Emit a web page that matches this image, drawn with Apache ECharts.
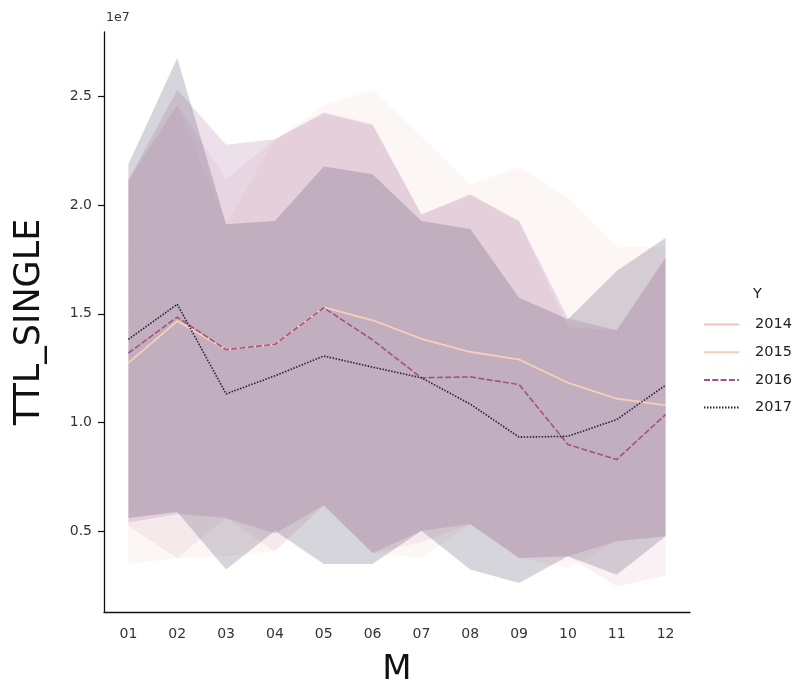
<!DOCTYPE html>
<html>
<head>
<meta charset="utf-8">
<script src="https://cdn.jsdelivr.net/npm/echarts@6/dist/echarts.min.js"></script>
<style>html,body{margin:0;padding:0;background:#fff}#c{width:800px;height:686px}</style>
</head>
<body>
<div id="c"></div>
<script>
const months = ['01','02','03','04','05','06','07','08','09','10','11','12'];
const years = ['2014','2015','2016','2017'];
const yTicks = [5e6, 1e7, 1.5e7, 2e7, 2.5e7];

// mean lines
const mean2014 = [1.275e7,1.467e7,1.335e7,1.36e7,1.53e7,1.47e7,1.385e7,1.325e7,1.29e7,1.183e7,1.11e7,1.08e7];
const mean2015 = [1.275e7,1.467e7,1.335e7,1.36e7,1.53e7,1.47e7,1.385e7,1.325e7,1.29e7,1.183e7,1.11e7,1.08e7];
const mean2016 = [1.32e7,1.485e7,1.335e7,1.36e7,1.528e7,1.38e7,1.206e7,1.21e7,1.175e7,8.99e6,8.3e6,1.037e7];
const mean2017 = [1.383e7,1.544e7,1.132e7,1.215e7,1.306e7,1.255e7,1.206e7,1.085e7,9.33e6,9.37e6,1.014e7,1.172e7];

// confidence band upper / lower
const hi2014 = [2.115e7,2.46e7,1.912e7,2.30e7,2.457e7,2.529e7,2.315e7,2.096e7,2.173e7,2.035e7,1.805e7,1.81e7];
const lo2014 = [3.5e6,3.77e6,3.85e6,4.08e6,6.2e6,4.0e6,3.77e6,5.34e6,3.77e6,3.31e6,4.54e6,4.77e6];
const hi2015 = [2.115e7,2.46e7,2.12e7,2.30e7,2.42e7,2.365e7,1.955e7,2.045e7,1.922e7,1.44e7,1.425e7,1.758e7];
const lo2015 = [5.23e6,3.77e6,5.61e6,4.08e6,6.2e6,4.0e6,4.5e6,5.34e6,3.77e6,3.85e6,2.47e6,2.97e6];
const hi2016 = [2.115e7,2.53e7,2.277e7,2.303e7,2.426e7,2.372e7,1.958e7,2.05e7,1.927e7,1.48e7,1.425e7,1.758e7];
const lo2016 = [5.4e6,5.8e6,5.61e6,4.9e6,6.2e6,4.0e6,5.03e6,5.34e6,3.77e6,3.85e6,4.54e6,4.77e6];
const hi2017 = [2.188e7,2.676e7,1.912e7,1.927e7,2.177e7,2.142e7,1.927e7,1.89e7,1.574e7,1.475e7,1.697e7,1.85e7];
const lo2017 = [5.61e6,5.89e6,3.24e6,5.03e6,3.5e6,3.5e6,5.03e6,3.24e6,2.62e6,3.85e6,3.0e6,4.77e6];

const lineColors = ['#efc2b6','#f3cfba','#a5527f','#2d1e3e'];
const bandColors = ['#eed4cd','#e1b9c8','#a06996','#372d50'];
const lineDash = ['solid','solid',[6,2.3],[1.5,1.5]];

const means = [mean2014, mean2015, mean2016, mean2017];
const his = [hi2014, hi2015, hi2016, hi2017];
const los = [lo2014, lo2015, lo2016, lo2017];

const series = [];
years.forEach((y, i) => {
  series.push({
    name: 'lo' + y, type: 'line', stack: 'band' + y, data: los[i],
    symbol: 'none', lineStyle: {opacity: 0}, silent: true, z: 1
  });
  series.push({
    name: 'band' + y, type: 'line', stack: 'band' + y,
    data: his[i].map((v, k) => v - los[i][k]),
    symbol: 'none', lineStyle: {opacity: 0}, silent: true, z: 1,
    areaStyle: {color: bandColors[i], opacity: 0.2}
  });
});
years.forEach((y, i) => {
  series.push({
    name: y, type: 'line', data: means[i], symbol: 'none', z: 3,
    lineStyle: {color: lineColors[i], width: 1.6, type: lineDash[i]},
    itemStyle: {color: lineColors[i]}
  });
});

const chart = echarts.init(document.getElementById('c'), null, {renderer: 'canvas'});
chart.setOption({
  animation: false,
  backgroundColor: '#fff',
  textStyle: {fontFamily: 'DejaVu Sans'},
  grid: {left: 104, right: 110, top: 32, bottom: 74, containLabel: false, outerBoundsMode: 'none'},
  xAxis: {
    type: 'category', data: months, boundaryGap: true,
    name: 'M', nameLocation: 'middle', nameGap: 41,
    nameTextStyle: {fontSize: 34, color: '#111', fontFamily: 'DejaVu Sans'},
    axisLine: {lineStyle: {color: '#111', width: 1.3}},
    axisTick: {alignWithLabel: true, length: 6, lineStyle: {color: '#111', width: 1.2}},
    axisLabel: {fontSize: 14, color: '#333', margin: 15, fontFamily: 'DejaVu Sans'},
    splitLine: {show: false}
  },
  yAxis: {
    type: 'value', min: 1.29e6, max: 2.796e7,
    name: 'TTL_SINGLE', nameLocation: 'middle', nameGap: 57,
    nameTextStyle: {fontSize: 35, color: '#111', fontFamily: 'DejaVu Sans'},
    axisLine: {show: true, lineStyle: {color: '#111', width: 1.3}},
    axisTick: {show: true, length: 6, customValues: yTicks, lineStyle: {color: '#111', width: 1.2}},
    axisLabel: {fontSize: 14, color: '#333', margin: 12, customValues: yTicks,
      formatter: v => (v / 1e7).toFixed(1), fontFamily: 'DejaVu Sans'},
    splitLine: {show: false}
  },
  legend: {
    data: years, orient: 'vertical', left: 703, top: 317, padding: 0,
    itemWidth: 35, itemHeight: 14, itemGap: 12.7,
    itemStyle: {opacity: 0},
    textStyle: {fontSize: 14.5, color: '#222', lineHeight: 14, padding: [0,0,0,11], fontFamily: 'DejaVu Sans'}
  },
  graphic: [
    {type: 'text', left: 106, top: 11, style: {text: '1e7', fontSize: 12.5, fill: '#333', fontFamily: 'DejaVu Sans'}},
    {type: 'text', left: 753, top: 287, style: {text: 'Y', fontSize: 14.5, fill: '#222', fontFamily: 'DejaVu Sans'}}
  ],
  series: series
});
</script>
</body>
</html>
